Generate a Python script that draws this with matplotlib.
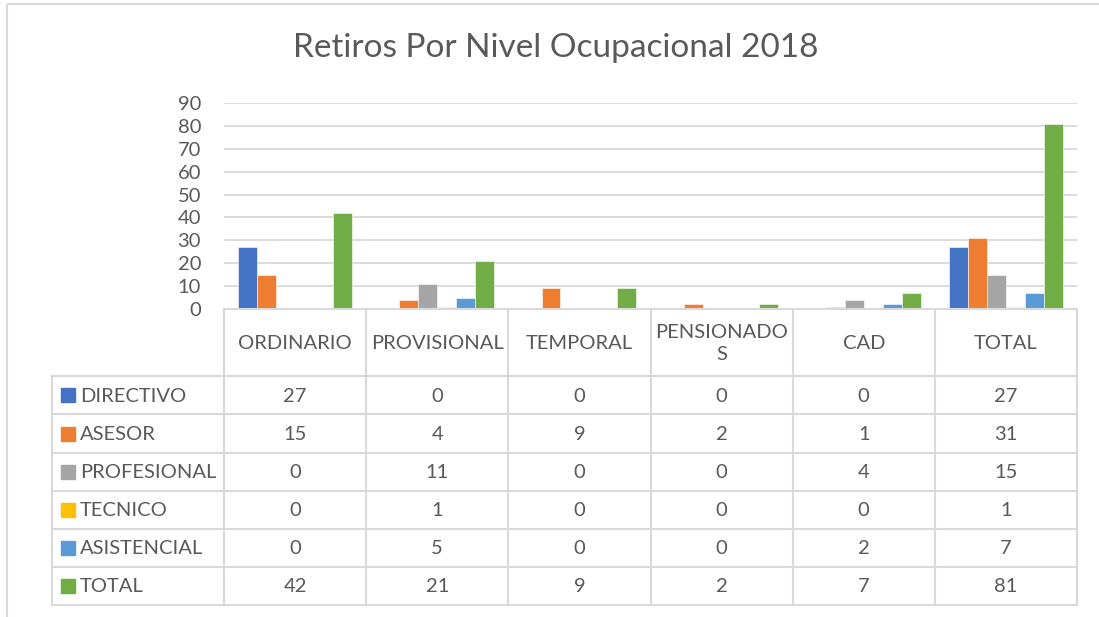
import matplotlib
matplotlib.use("Agg")
import matplotlib.pyplot as plt
from matplotlib.patches import Rectangle
import numpy as np

plt.rcParams['font.family'] = ['Lato', 'DejaVu Sans']

categories = ["ORDINARIO", "PROVISIONAL", "TEMPORAL", "PENSIONADO\nS", "CAD", "TOTAL"]
series_names = ["DIRECTIVO", "ASESOR", "PROFESIONAL", "TECNICO", "ASISTENCIAL", "TOTAL"]
directivo = [27, 0, 0, 0, 0, 27]
asesor = [15, 4, 9, 2, 1, 31]
profesional = [0, 11, 0, 0, 4, 15]
tecnico = [0, 1, 0, 0, 0, 1]
asistencial = [0, 5, 0, 0, 2, 7]
total = [42, 21, 9, 2, 7, 81]
series_values = [directivo, asesor, profesional, tecnico, asistencial, total]
colors = ["#4472C4", "#ED7D31", "#A5A5A5", "#FFC000", "#5B9BD5", "#70AD47"]
title = "Retiros Por Nivel Ocupacional 2018"

W, H = 1099, 617
fig = plt.figure(figsize=(W / 100, H / 100), dpi=100)
TXT = "#595959"
GRID = "#D9D9D9"

# geometry (pixels)
px_left, px_right = 224, 1077
px_top, px_zero = 103, 309

ax = fig.add_axes([px_left / W, 1 - px_zero / H, (px_right - px_left) / W, (px_zero - px_top) / H])
n = len(categories)
ns = len(series_names)
bw = 0.8 / ns
x = np.arange(n)
for i, (vals, c) in enumerate(zip(series_values, colors)):
    ax.bar(x + (i - (ns - 1) / 2) * bw, vals, width=bw, color=c, edgecolor="white", linewidth=0.4, zorder=3)
ax.set_xlim(-0.5, n - 0.5)
ax.set_ylim(0, 90)
ax.set_yticks(range(0, 91, 10))
ax.yaxis.grid(True, color=GRID, linewidth=1.3, zorder=0)
ax.set_xticks([])
for s in ax.spines.values():
    s.set_visible(False)
ax.tick_params(axis='y', length=0, labelsize=14.5, labelcolor=TXT, pad=16.5)

# overlay for table
ov = fig.add_axes([0, 0, 1, 1])
ov.set_xlim(0, W)
ov.set_ylim(H, 0)
ov.axis('off')
ov.patch.set_alpha(0)

# outer frame
ov.add_patch(Rectangle((7, 4), W + 20, H + 20, fill=False, edgecolor="#D9D9D9", linewidth=1.5))

ov.text((292 + 820) / 2, 48, title, ha='center', va='center', fontsize=24, color=TXT)

col_edges = np.linspace(px_left, px_right, n + 1)
row_edges = [309, 376, 414, 453, 491, 529, 567, 605]
tab_left = 52
lw = 1.5
# vertical lines
for xe in col_edges:
    ov.plot([xe, xe], [row_edges[0], row_edges[-1]], color=GRID, lw=lw)
ov.plot([tab_left, tab_left], [row_edges[1], row_edges[-1]], color=GRID, lw=lw)
# horizontal lines
ov.plot([px_left, px_right], [row_edges[0], row_edges[0]], color=GRID, lw=lw)
for ye in row_edges[1:]:
    ov.plot([tab_left, px_right], [ye, ye], color=GRID, lw=lw)

# header
for j, cat in enumerate(categories):
    cx = (col_edges[j] + col_edges[j + 1]) / 2
    ov.text(cx, (row_edges[0] + row_edges[1]) / 2 + 1, cat, ha='center', va='center',
            fontsize=14.5, color=TXT, linespacing=1.4)

# rows
for i, (name, vals, c) in enumerate(zip(series_names, series_values, colors)):
    cy = (row_edges[i + 1] + row_edges[i + 2]) / 2
    ov.add_patch(Rectangle((61, cy - 7), 14, 14, color=c))
    ov.text(80, cy + 1, name, ha='left', va='center', fontsize=14.5, color=TXT)
    for j, v in enumerate(vals):
        cx = (col_edges[j] + col_edges[j + 1]) / 2
        ov.text(cx, cy + 1, str(v), ha='center', va='center', fontsize=14.5, color=TXT)

fig.savefig("out.png", dpi=100)
